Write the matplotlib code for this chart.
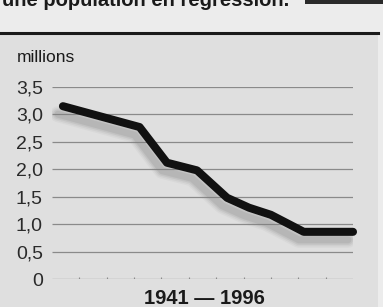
import matplotlib
matplotlib.use("Agg")
import matplotlib.pyplot as plt
import matplotlib.transforms as mtransforms
from matplotlib.patches import Rectangle

years = [1943, 1957, 1962, 1967.5, 1973, 1977, 1981, 1987, 1996]
population = [3.15, 2.77, 2.12, 1.98, 1.48, 1.30, 1.17, 0.86, 0.86]
yticks = [0, 0.5, 1.0, 1.5, 2.0, 2.5, 3.0, 3.5]
ytick_labels = ["0", "0,5", "1,0", "1,5", "2,0", "2,5", "3,0", "3,5"]
minor_years = [1946, 1951, 1956, 1961, 1966, 1971, 1976, 1981, 1986, 1991]
title = "une population en régression."
unit = "millions"
xlabel = "1941 — 1996"

plt.rcParams['font.family'] = ['Liberation Sans', 'DejaVu Sans']

W, H = 383, 307
fig = plt.figure(figsize=(W / 100, H / 100), dpi=100)
fig.patch.set_facecolor("#ececec")

def fx(px):
    return px / W

def fy(py):
    return 1 - py / H

# gray panel
fig.add_artist(Rectangle((0, 0), fx(378), fy(35), transform=fig.transFigure,
                         facecolor="#dfdfdf", edgecolor="none", zorder=-5))
# thick rule
fig.add_artist(plt.Line2D([0, fx(378)], [fy(33), fy(33)], transform=fig.transFigure,
                          color="#1a1a1a", lw=2.2, zorder=-4))
# dark box top right
fig.add_artist(Rectangle((fx(305), fy(4)), fx(78), fy(0) - fy(4), transform=fig.transFigure,
                         facecolor="#2a2a2a", edgecolor="none", zorder=-4))
# cut-off title
fig.text(fx(2), fy(6), title, fontsize=14.5, fontweight="bold", color="#1a1a1a",
         ha="left", va="baseline")

ax = fig.add_axes([fx(52), fy(279), fx(353) - fx(52), fy(87) - fy(279)], zorder=2)
ax.set_facecolor("none")
ax.set_xlim(1941, 1996)
ax.set_ylim(0, 3.5)
for s in ax.spines.values():
    s.set_visible(False)

ax.hlines(yticks, 1941, 1996, color="#8a8a8a", lw=0.9, zorder=1)
ax.vlines(minor_years, 0, 0.04, color="#8a8a8a", lw=0.8, zorder=1)

ax.set_yticks(yticks)
ax.set_yticklabels(ytick_labels, fontsize=14, color="#2a2a2a")
ax.tick_params(axis="y", length=0, pad=6.5)
ax.set_xticks([])

# blurred shadow
for lw, a in [(16, 0.07), (13, 0.10), (10, 0.14), (7, 0.18)]:
    tr = mtransforms.offset_copy(ax.transData, fig=fig, x=-5, y=-8, units="dots")
    ax.plot(years, population, color="#808080", lw=lw * 0.72, alpha=a,
            solid_capstyle="round", solid_joinstyle="round", transform=tr, zorder=2)

ax.plot(years, population, color="#111111", lw=5.8, solid_capstyle="round",
        solid_joinstyle="round", zorder=3, clip_on=False)

fig.text(fx(17), fy(62), unit, fontsize=12.5, color="#1a1a1a", ha="left", va="baseline")
fig.text(fx(204), fy(304), xlabel, fontsize=14.5, fontweight="bold", color="#1a1a1a",
         ha="center", va="baseline")

fig.savefig("out.png", dpi=100, facecolor=fig.get_facecolor())
